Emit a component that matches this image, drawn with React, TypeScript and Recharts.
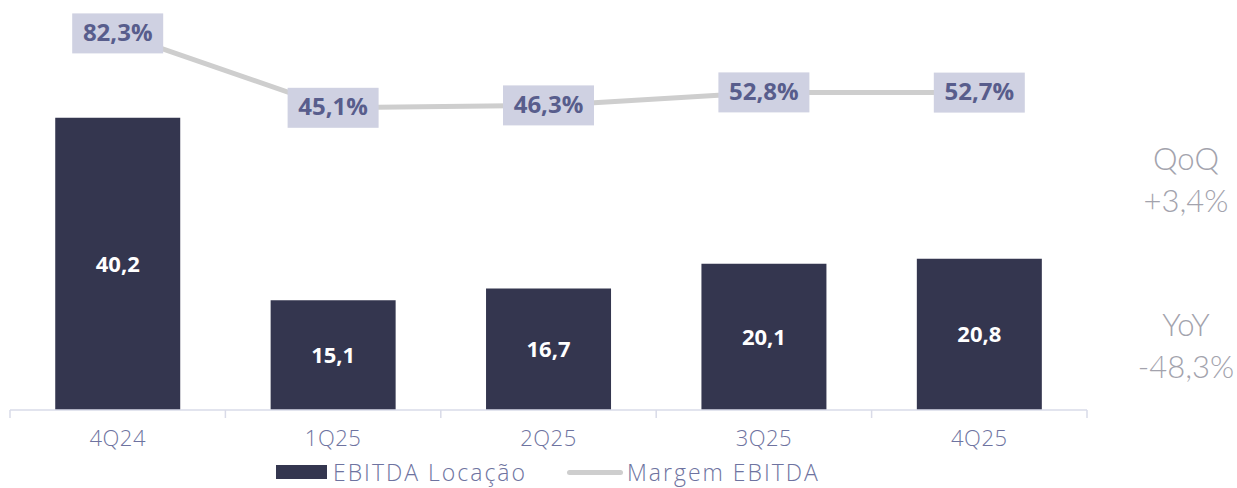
import React from 'react';
import { ComposedChart, Bar, Line, XAxis, YAxis, LabelList } from 'recharts';

const categories = ['4Q24', '1Q25', '2Q25', '3Q25', '4Q25'];
const ebitdaLocacao = [40.2, 15.1, 16.7, 20.1, 20.8];
const margemEbitda = [82.3, 45.1, 46.3, 52.8, 52.7];
const sideNotes = [
  { title: 'QoQ', value: '+3,4%' },
  { title: 'YoY', value: '-48,3%' },
];

const data = categories.map((c, i) => ({ cat: c, ebitda: ebitdaLocacao[i], margem: margemEbitda[i] }));

const FONT = '"Open Sans", "DejaVu Sans", sans-serif';
const fmt1 = (v: number) => v.toFixed(1).replace('.', ',');

const LineLabel = (props: any) => {
  const { x, y, value } = props;
  const text = fmt1(value) + '%';
  const w = 91;
  const h = 40;
  return (
    <g>
      <rect x={x - w / 2} y={y - h / 2} width={w} height={h} fill="#cfd1e2" />
      <text x={x} y={y + 1} textAnchor="middle" dominantBaseline="middle" fill="#585d8c" fontFamily={FONT} fontWeight={700} fontSize={24}>
        {text}
      </text>
    </g>
  );
};

const AxisTick = (props: any) => {
  const { x, y, payload, index, visibleTicksCount } = props;
  const band = 215.4;
  const count = visibleTicksCount ?? categories.length;
  return (
    <g>
      <line x1={x - band / 2} x2={x - band / 2} y1={y - 8} y2={y} stroke="#d9dbe8" strokeWidth={1.5} />
      {index === count - 1 && (
        <line x1={x + band / 2} x2={x + band / 2} y1={y - 8} y2={y} stroke="#d9dbe8" strokeWidth={1.5} />
      )}
      <text x={x} y={y + 28} textAnchor="middle" fill="#6e73a0" fontFamily={FONT} fontWeight={300} fontSize={22} letterSpacing={0.5}>
        {payload.value}
      </text>
    </g>
  );
};

export default function App() {
  return (
    <div style={{ position: 'absolute', left: 0, top: 0, width: 1237, height: 488, background: '#fff', fontFamily: FONT, overflow: 'hidden' }}>
      <ComposedChart width={1100} height={488} data={data} margin={{ top: 10, right: 13, left: 10, bottom: 48 }} barCategoryGap="21%">
        <XAxis dataKey="cat" axisLine={{ stroke: '#d9dbe8', strokeWidth: 1.5 }} tickLine={false} height={30} tick={<AxisTick />} interval={0} />
        <YAxis yAxisId="bar" hide domain={[0, 55]} />
        <YAxis yAxisId="line" hide domain={[-106, 94]} orientation="right" />
        <Bar yAxisId="bar" dataKey="ebitda" fill="#34364f" isAnimationActive={false}>
          <LabelList dataKey="ebitda" position="center" fill="#ffffff" fontFamily={FONT} fontWeight={700} fontSize={22} formatter={(v: any) => fmt1(Number(v))} />
        </Bar>
        <Line yAxisId="line" dataKey="margem" stroke="#cecece" strokeWidth={5} dot={false} activeDot={false} isAnimationActive={false}>
          <LabelList dataKey="margem" content={<LineLabel />} />
        </Line>
      </ComposedChart>

      <div style={{ position: 'absolute', left: 276, top: 458, height: 28, display: 'flex', alignItems: 'center', fontSize: 23, lineHeight: '28px', color: '#6e73a0', fontWeight: 300, whiteSpace: 'nowrap', letterSpacing: 2 }}>
        <span style={{ display: 'inline-block', width: 51, height: 14, background: '#34364f', marginRight: 6 }} />
        <span>EBITDA Locação</span>
        <span style={{ display: 'inline-block', width: 56, height: 5, borderRadius: 3, background: '#cecece', marginLeft: 40, marginRight: 4 }} />
        <span>Margem EBITDA</span>
      </div>

      {sideNotes.map((n, i) => (
        <div key={n.title} style={{ position: 'absolute', left: 1130, width: 112, top: 137 + i * 166, textAlign: 'center', color: '#a3a3ad', fontFamily: '"Lato", "Roboto", sans-serif', fontWeight: 300, fontSize: 31, lineHeight: '42px' }}>
          <div>{n.title}</div>
          <div>{n.value}</div>
        </div>
      ))}
    </div>
  );
}
